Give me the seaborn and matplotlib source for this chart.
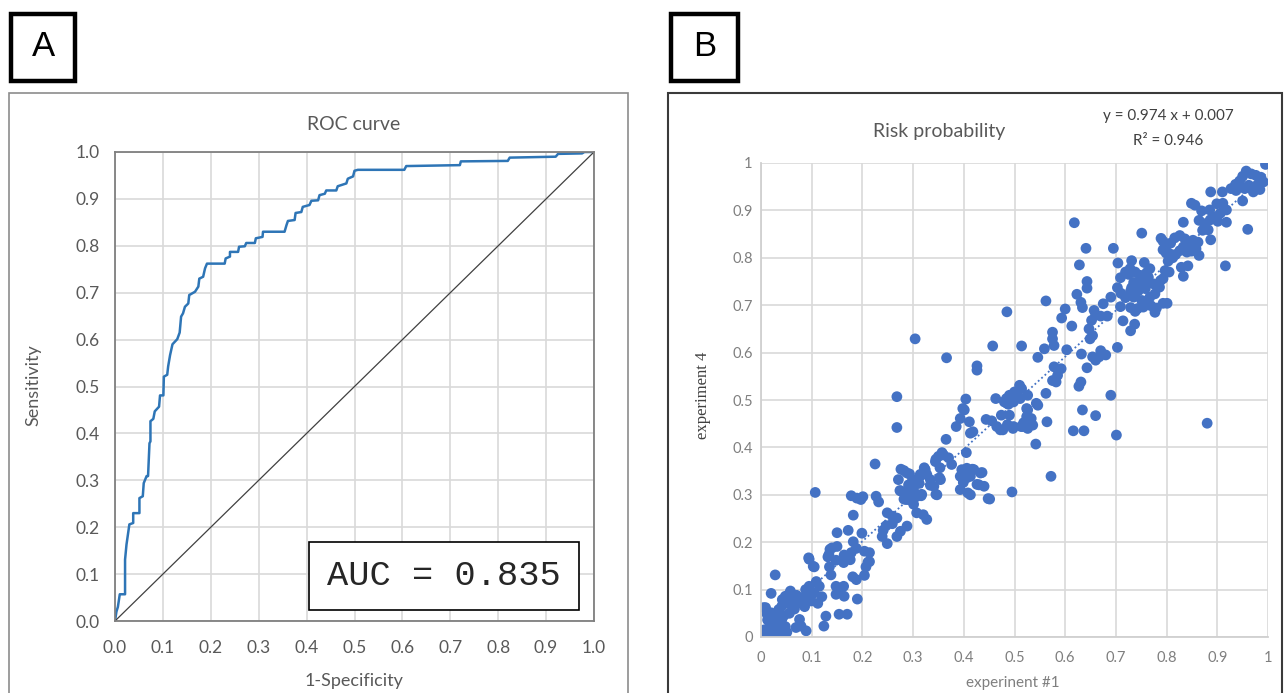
import numpy as np
import pandas as pd
import seaborn as sns
import matplotlib.pyplot as plt
from matplotlib.patches import Rectangle

# ROC curve (1-specificity, sensitivity)
fpr = [0.000, 0.003, 0.006, 0.010, 0.021, 0.021, 0.024, 0.030, 0.038, 0.038,
       0.051, 0.051, 0.058, 0.060, 0.066, 0.069, 0.072, 0.074, 0.074, 0.080,
       0.083, 0.092, 0.094, 0.101, 0.102, 0.109, 0.111, 0.115, 0.120, 0.130,
       0.135, 0.138, 0.142, 0.146, 0.153, 0.155, 0.167, 0.174, 0.176, 0.184,
       0.188, 0.192, 0.229, 0.231, 0.240, 0.240, 0.257, 0.259, 0.271, 0.274,
       0.292, 0.294, 0.308, 0.309, 0.354, 0.358, 0.361, 0.375, 0.377, 0.389,
       0.392, 0.406, 0.410, 0.424, 0.427, 0.438, 0.441, 0.462, 0.465, 0.483,
       0.486, 0.497, 0.500, 0.507, 0.604, 0.608, 0.720, 0.722, 0.820, 0.824,
       0.920, 0.925, 0.975, 0.980, 1.000]
tpr = [0.000, 0.020, 0.030, 0.057, 0.057, 0.131, 0.163, 0.206, 0.209, 0.230,
       0.230, 0.262, 0.266, 0.294, 0.309, 0.309, 0.379, 0.383, 0.426, 0.431,
       0.447, 0.457, 0.481, 0.481, 0.521, 0.525, 0.543, 0.567, 0.590, 0.601,
       0.615, 0.649, 0.656, 0.670, 0.677, 0.695, 0.702, 0.713, 0.730, 0.734,
       0.752, 0.762, 0.762, 0.773, 0.777, 0.787, 0.787, 0.798, 0.799, 0.806,
       0.806, 0.816, 0.819, 0.830, 0.830, 0.844, 0.853, 0.855, 0.870, 0.872,
       0.883, 0.887, 0.896, 0.897, 0.908, 0.911, 0.918, 0.918, 0.927, 0.933,
       0.943, 0.948, 0.960, 0.962, 0.962, 0.970, 0.972, 0.980, 0.981, 0.988,
       0.990, 0.996, 0.997, 1.000, 1.000]
chance = [0.0, 1.0]
auc_text = "AUC = 0.835"

# risk probability, (experiment #1, experiment 4) pairs by band of x
pts_a = [(0.000, 0.002), (0.000, 0.009), (0.003, 0.008), (0.009, 0.062), (0.005, 0.062),
         (0.011, 0.003), (0.013, 0.036), (0.016, 0.020), (0.020, 0.051), (0.020, 0.092),
         (0.023, 0.005), (0.026, 0.029), (0.028, 0.131), (0.031, 0.048), (0.033, 0.013),
         (0.038, 0.008), (0.041, 0.037), (0.041, 0.065), (0.042, 0.079), (0.048, 0.022),
         (0.048, 0.086), (0.051, 0.010), (0.053, 0.071), (0.056, 0.050), (0.056, 0.090),
         (0.058, 0.097), (0.006, 0.015), (0.018, 0.012), (0.030, 0.025), (0.035, 0.058),
         (0.045, 0.045), (0.028, 0.040), (0.012, 0.048), (0.060, 0.068)]
pts_b = [(0.066, 0.059), (0.069, 0.079), (0.069, 0.020), (0.076, 0.037), (0.079, 0.023),
         (0.082, 0.083), (0.086, 0.064), (0.089, 0.013), (0.092, 0.090), (0.094, 0.167),
         (0.095, 0.107), (0.095, 0.164), (0.099, 0.076), (0.103, 0.149), (0.105, 0.093),
         (0.105, 0.148), (0.107, 0.305), (0.109, 0.117), (0.112, 0.071), (0.115, 0.107),
         (0.120, 0.085), (0.075, 0.072), (0.088, 0.100), (0.070, 0.088)]
pts_c = [(0.124, 0.023), (0.128, 0.044), (0.132, 0.169), (0.134, 0.174), (0.135, 0.148),
         (0.136, 0.185), (0.138, 0.131), (0.140, 0.188), (0.148, 0.107), (0.148, 0.090),
         (0.148, 0.162), (0.150, 0.191), (0.150, 0.220), (0.154, 0.048), (0.155, 0.097),
         (0.163, 0.107), (0.163, 0.157), (0.164, 0.086), (0.164, 0.173), (0.170, 0.048),
         (0.172, 0.225), (0.176, 0.163), (0.178, 0.178), (0.178, 0.298), (0.181, 0.127),
         (0.182, 0.201), (0.182, 0.257), (0.188, 0.187), (0.188, 0.121), (0.190, 0.080),
         (0.189, 0.293), (0.197, 0.290), (0.199, 0.219), (0.201, 0.296)]
pts_d = [(0.204, 0.130), (0.204, 0.181), (0.207, 0.148), (0.211, 0.158), (0.214, 0.178),
         (0.214, 0.159), (0.225, 0.365), (0.227, 0.297), (0.232, 0.285), (0.239, 0.212),
         (0.241, 0.225), (0.247, 0.235), (0.249, 0.197), (0.249, 0.262), (0.259, 0.255),
         (0.259, 0.239)]
pts_e = [(0.268, 0.442), (0.268, 0.507), (0.268, 0.212), (0.268, 0.251), (0.271, 0.332),
         (0.274, 0.309), (0.275, 0.223), (0.276, 0.354), (0.276, 0.308), (0.282, 0.351),
         (0.282, 0.291), (0.283, 0.305), (0.286, 0.290), (0.288, 0.346), (0.288, 0.234),
         (0.289, 0.303), (0.291, 0.321), (0.291, 0.290), (0.293, 0.344), (0.293, 0.318),
         (0.296, 0.297), (0.299, 0.332), (0.299, 0.308)]
pts_f = [(0.301, 0.316), (0.301, 0.280), (0.304, 0.629), (0.306, 0.296), (0.307, 0.262),
         (0.312, 0.324), (0.314, 0.339), (0.314, 0.343), (0.316, 0.298), (0.317, 0.301),
         (0.320, 0.258), (0.322, 0.357), (0.324, 0.353), (0.327, 0.343), (0.327, 0.248),
         (0.334, 0.320), (0.334, 0.332), (0.341, 0.318), (0.344, 0.370), (0.345, 0.375),
         (0.345, 0.301), (0.347, 0.300), (0.350, 0.381), (0.352, 0.336), (0.353, 0.357),
         (0.354, 0.332), (0.357, 0.389)]
pts_g = [(0.360, 0.384), (0.365, 0.417), (0.366, 0.589), (0.370, 0.378), (0.376, 0.364),
         (0.385, 0.444), (0.393, 0.461), (0.393, 0.339), (0.393, 0.311), (0.396, 0.353),
         (0.398, 0.482), (0.399, 0.326), (0.399, 0.332), (0.401, 0.479), (0.404, 0.502),
         (0.405, 0.389), (0.406, 0.336), (0.406, 0.356), (0.407, 0.349), (0.408, 0.304),
         (0.411, 0.454), (0.413, 0.300), (0.413, 0.339), (0.413, 0.430), (0.417, 0.354),
         (0.418, 0.433)]
pts_h = [(0.420, 0.353), (0.426, 0.572), (0.426, 0.563), (0.426, 0.322), (0.430, 0.321),
         (0.433, 0.346), (0.436, 0.347), (0.440, 0.318), (0.444, 0.459), (0.448, 0.292),
         (0.451, 0.291), (0.455, 0.456), (0.457, 0.614), (0.463, 0.503), (0.465, 0.444),
         (0.472, 0.437), (0.474, 0.468), (0.477, 0.437), (0.480, 0.496), (0.484, 0.503),
         (0.485, 0.686), (0.485, 0.493), (0.486, 0.448), (0.488, 0.491), (0.490, 0.468),
         (0.490, 0.510), (0.495, 0.508), (0.495, 0.306), (0.497, 0.440), (0.498, 0.496),
         (0.498, 0.444)]
pts_i = [(0.500, 0.517), (0.505, 0.515), (0.510, 0.531), (0.511, 0.503), (0.513, 0.444),
         (0.514, 0.524), (0.514, 0.614), (0.516, 0.444), (0.518, 0.452), (0.524, 0.482),
         (0.524, 0.465), (0.526, 0.479), (0.526, 0.510), (0.526, 0.440), (0.533, 0.461),
         (0.536, 0.447), (0.542, 0.407), (0.543, 0.493), (0.546, 0.489), (0.546, 0.590),
         (0.559, 0.608)]
pts_j = [(0.562, 0.709), (0.562, 0.514), (0.564, 0.454), (0.572, 0.339), (0.575, 0.643),
         (0.575, 0.629), (0.575, 0.541), (0.578, 0.615), (0.578, 0.570), (0.582, 0.538),
         (0.585, 0.552), (0.592, 0.566), (0.593, 0.673), (0.600, 0.692), (0.603, 0.606),
         (0.613, 0.656), (0.616, 0.435), (0.618, 0.874)]
pts_k = [(0.623, 0.723), (0.627, 0.529), (0.628, 0.785), (0.631, 0.706), (0.631, 0.538),
         (0.632, 0.597), (0.634, 0.695), (0.634, 0.479), (0.637, 0.435), (0.641, 0.820),
         (0.643, 0.750), (0.643, 0.736), (0.643, 0.568), (0.647, 0.650), (0.649, 0.629),
         (0.652, 0.668), (0.654, 0.636), (0.654, 0.591), (0.657, 0.689), (0.660, 0.679),
         (0.660, 0.584), (0.660, 0.467), (0.667, 0.591), (0.670, 0.677), (0.670, 0.604),
         (0.675, 0.703), (0.680, 0.595), (0.683, 0.677), (0.690, 0.717), (0.690, 0.510),
         (0.695, 0.820)]
pts_l = [(0.701, 0.426), (0.703, 0.737), (0.703, 0.611), (0.704, 0.789), (0.709, 0.758),
         (0.709, 0.697), (0.710, 0.725), (0.714, 0.667), (0.719, 0.770), (0.719, 0.716),
         (0.725, 0.765), (0.728, 0.777), (0.729, 0.730), (0.729, 0.695), (0.729, 0.646),
         (0.731, 0.794), (0.731, 0.737), (0.735, 0.748), (0.735, 0.717), (0.737, 0.660),
         (0.738, 0.770), (0.738, 0.687), (0.741, 0.745), (0.743, 0.693), (0.744, 0.730),
         (0.748, 0.755), (0.748, 0.763), (0.751, 0.852), (0.751, 0.710), (0.754, 0.749),
         (0.754, 0.696), (0.756, 0.790), (0.758, 0.735), (0.758, 0.706)]
pts_m = [(0.761, 0.769), (0.761, 0.749), (0.764, 0.759), (0.767, 0.777), (0.767, 0.717),
         (0.769, 0.699), (0.774, 0.745), (0.777, 0.724), (0.777, 0.685), (0.780, 0.694),
         (0.786, 0.738), (0.788, 0.752), (0.789, 0.841), (0.793, 0.835), (0.793, 0.817),
         (0.793, 0.756), (0.793, 0.704), (0.797, 0.773), (0.799, 0.824), (0.799, 0.810),
         (0.801, 0.704), (0.803, 0.793), (0.805, 0.770), (0.807, 0.808), (0.808, 0.831),
         (0.812, 0.800), (0.816, 0.842), (0.818, 0.807)]
pts_n = [(0.826, 0.847), (0.826, 0.815), (0.829, 0.780), (0.833, 0.875), (0.833, 0.823),
         (0.833, 0.761), (0.836, 0.840), (0.840, 0.812), (0.842, 0.830), (0.842, 0.783),
         (0.849, 0.814), (0.849, 0.915), (0.852, 0.837), (0.856, 0.911), (0.858, 0.819),
         (0.862, 0.833), (0.864, 0.879), (0.864, 0.805), (0.869, 0.899), (0.871, 0.858),
         (0.875, 0.872), (0.880, 0.451), (0.882, 0.859), (0.885, 0.901), (0.886, 0.880),
         (0.887, 0.939), (0.887, 0.838), (0.897, 0.887), (0.899, 0.914)]
pts_o = [(0.901, 0.877), (0.906, 0.894), (0.910, 0.939), (0.911, 0.915), (0.916, 0.783),
         (0.918, 0.901), (0.918, 0.875), (0.927, 0.946), (0.936, 0.955), (0.937, 0.942),
         (0.944, 0.962), (0.950, 0.920), (0.950, 0.972), (0.954, 0.946), (0.957, 0.983),
         (0.960, 0.860), (0.962, 0.953), (0.967, 0.977), (0.971, 0.949), (0.971, 0.939),
         (0.976, 0.974), (0.980, 0.955), (0.984, 0.944), (0.986, 0.970), (0.991, 0.960),
         (0.995, 0.997)]
slope, intercept, r2 = 0.974, 0.007, 0.946

all_pts = (pts_a + pts_b + pts_c + pts_d + pts_e + pts_f + pts_g + pts_h +
           pts_i + pts_j + pts_k + pts_l + pts_m + pts_n + pts_o)
df_risk = pd.DataFrame(all_pts, columns=["exp1", "exp4"])
df_roc = pd.DataFrame({"fpr": fpr, "tpr": tpr})

W, H = 1285, 693
def fx(px):
    return px / W
def fy(py):
    return 1 - py / H

sns.set_theme(style="white")
plt.rcParams["font.family"] = ["Lato", "DejaVu Sans"]

fig = plt.figure(figsize=(W / 100, H / 100), dpi=100)
fig.patch.set_facecolor("white")

# panel frames and letter boxes
fig.add_artist(Rectangle((fx(9), fy(705)), (628 - 9) / W, (705 - 93) / H,
                         transform=fig.transFigure, fill=False, ec="#8c8c8c", lw=1.2))
fig.add_artist(Rectangle((fx(668), fy(705)), (1282 - 668) / W, (705 - 93) / H,
                         transform=fig.transFigure, fill=False, ec="#3a3a3a", lw=1.5))
for x0, x1, letter in [(11, 75, "A"), (671, 738, "B")]:
    fig.add_artist(Rectangle((fx(x0), fy(81)), (x1 - x0) / W, (81 - 14) / H,
                             transform=fig.transFigure, fill=False, ec="black", lw=3.2))
    fig.text(fx((x0 + x1) / 2), fy(47), letter, ha="center", va="center",
             fontsize=25, family=["Liberation Sans", "DejaVu Sans"], color="black")

# ---- panel A: ROC
axA = fig.add_axes([fx(115), fy(621), 479 / W, 469 / H])
sns.lineplot(data=df_roc, x="fpr", y="tpr", sort=False, estimator=None,
             color="#2E75B6", lw=1.8, ax=axA)
sns.lineplot(x=chance, y=chance, color="#404040", lw=0.9, ax=axA)
axA.set_xlim(0, 1)
axA.set_ylim(0, 1)
ticks = np.round(np.arange(0, 1.01, 0.1), 1)
axA.set_xticks(ticks)
axA.set_yticks(ticks)
axA.set_xticklabels([f"{t:.1f}" for t in ticks])
axA.set_yticklabels([f"{t:.1f}" for t in ticks])
axA.grid(True, color="#d9d9d9", lw=1.2)
axA.set_axisbelow(True)
for sp in axA.spines.values():
    sp.set_color("#7f7f7f")
    sp.set_linewidth(1.3)
axA.tick_params(axis="both", length=0, labelsize=12.5, colors="#595959")
axA.tick_params(axis="x", pad=14)
axA.tick_params(axis="y", pad=11)
axA.set_xlabel("")
axA.set_ylabel("")
axA.text(0.687, 0.096, auc_text, transform=axA.transAxes, ha="center", va="center",
         fontsize=25.5, family=["Liberation Mono", "DejaVu Sans Mono"], color="#262626",
         bbox=dict(boxstyle="square,pad=0.5", fc="white", ec="black", lw=1.2))
fig.text(fx(354), fy(124), "ROC curve", ha="center", va="center", fontsize=14, color="#595959")
fig.text(fx(33), fy(385), "Sensitivity", ha="center", va="center", rotation=90,
         fontsize=13, color="#595959")
fig.text(fx(354), fy(681), "1-Specificity", ha="center", va="center", fontsize=13, color="#595959")

# ---- panel B: risk probability
axB = fig.add_axes([fx(761), fy(637), 507 / W, 474 / H])
xx = np.linspace(df_risk["exp1"].min(), df_risk["exp1"].max(), 50)
axB.plot(xx, slope * xx + intercept, ls=(0, (1, 1.5)), color="#4472C4", lw=1.3, zorder=1)
sns.scatterplot(data=df_risk, x="exp1", y="exp4", color="#4472C4", s=60,
                edgecolor="none", ax=axB, zorder=2)
axB.set_xlim(0, 1)
axB.set_ylim(0, 1)
axB.set_xticks(ticks)
axB.set_yticks(ticks)
lab = ["0"] + [f"{t:.1f}" for t in ticks[1:-1]] + ["1"]
axB.set_xticklabels(lab)
axB.set_yticklabels(lab)
axB.grid(True, color="#d9d9d9", lw=1.2)
axB.set_axisbelow(True)
for name, sp in axB.spines.items():
    sp.set_visible(name in ("left", "bottom"))
    sp.set_color("#d0d0d0")
    sp.set_linewidth(1.3)
axB.tick_params(axis="both", length=0, labelsize=10.5, colors="#7f7f7f")
axB.tick_params(axis="x", pad=10)
axB.tick_params(axis="y", pad=6)
axB.set_xlabel("")
axB.set_ylabel("")
fig.text(fx(939), fy(131), "Risk probability", ha="center", va="center", fontsize=14, color="#595959")
fig.text(fx(1168), fy(116), f"y = {slope} x + {intercept}", ha="center", va="center",
         fontsize=11, color="#404040")
fig.text(fx(1168), fy(141), f"R² = {r2}", ha="center", va="center", fontsize=11, color="#404040")
fig.text(fx(703), fy(395), "experiment 4", ha="center", va="center", rotation=90,
         fontsize=12, family=["Liberation Serif", "DejaVu Serif"], color="#404040")
fig.text(fx(1013), fy(683), "experinent #1", ha="center", va="center", fontsize=11, color="#7f7f7f")

fig.savefig("out.png", dpi=100)
